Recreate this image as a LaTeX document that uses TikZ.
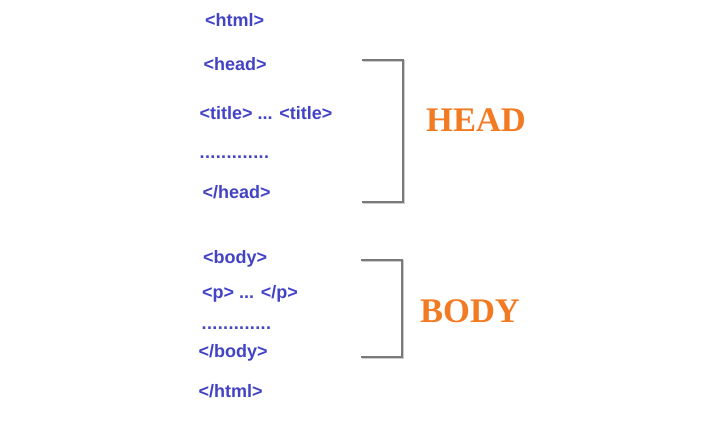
\documentclass[tikz,border=0pt]{standalone}
\usepackage{fontspec}
\newfontfamily\tagfont{Liberation Sans}
\newfontfamily\capfont{Liberation Serif}
\definecolor{tagblue}{HTML}{4343C6}
\definecolor{caporange}{HTML}{F27A22}
\definecolor{brgray}{HTML}{7A7A7A}
\begin{document}
\begin{tikzpicture}[x=1pt,y=-1pt,
  tag/.style={anchor=base west,inner sep=0pt,text=tagblue,font=\tagfont\bfseries\fontsize{18}{21}\selectfont},
  sectlabel/.style={anchor=base west,inner sep=0pt,text=caporange,font=\capfont\bfseries\fontsize{34.5}{40}\selectfont},
  bracket/.style={draw=brgray,line width=1.6pt},
  brshadow/.style={draw=black!20,line width=1.6pt}]
\useasboundingbox[fill=white] (0,0) rectangle (726,422);
\node[tag] (html) at (205,26.7) {<html>};
\node[tag] (head) at (203.3,70.7) {<head>};
\node[tag] (title) at (199.5,119.3) {<title> ... <title>};
\node[tag] (hdots) at (199.5,158.3) {\addfontfeature{LetterSpace=2}.............};
\node[tag] (ehead) at (202.3,198.5) {</head>};
\node[tag] (body) at (203,264) {<body>};
\node[tag] (p) at (202,298.3) {<p> ... </p>};
\node[tag] (bdots) at (201.5,329.3) {\addfontfeature{LetterSpace=2}.............};
\node[tag] (ebody) at (198.5,357.3) {</body>};
\node[tag] (ehtml) at (198.5,397.3) {</html>};
% brackets
\coordinate (h1) at (362,60);
\coordinate (h2) at (403,60);
\coordinate (h3) at (403,202);
\coordinate (h4) at (362,202);
\coordinate (b1) at (361,260);
\coordinate (b2) at (402,260);
\coordinate (b3) at (402,357);
\coordinate (b4) at (361,357);
\draw[brshadow] ([shift={(1.2,1.2)}]h1) -- ([shift={(1.2,1.2)}]h2) -- ([shift={(1.2,1.2)}]h3) -- ([shift={(1.2,1.2)}]h4);
\draw[brshadow] ([shift={(1.2,1.2)}]b1) -- ([shift={(1.2,1.2)}]b2) -- ([shift={(1.2,1.2)}]b3) -- ([shift={(1.2,1.2)}]b4);
\draw[bracket] (h1) -- (h2) -- (h3) -- (h4);
\draw[bracket] (b1) -- (b2) -- (b3) -- (b4);
\node[sectlabel] (HEAD) at (426,132) {HEAD};
\node[sectlabel] (BODY) at (420,323) {BODY};
\end{tikzpicture}
\end{document}
